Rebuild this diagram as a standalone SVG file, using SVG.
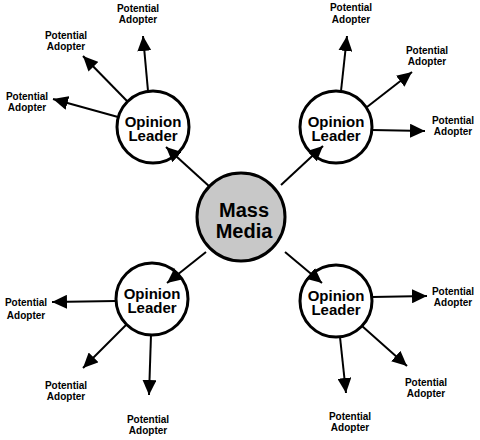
<svg xmlns="http://www.w3.org/2000/svg" width="480" height="440" viewBox="0 0 480 440">
<defs>
<marker id="ah" markerUnits="userSpaceOnUse" markerWidth="16" markerHeight="14" refX="15" refY="7" orient="auto">
<path d="M0,0 L15,7 L0,14 Z" fill="#000"/>
</marker>
<style>
.c{stroke:#000;stroke-width:2;fill:none;marker-end:url(#ah)}
.n{fill:#fff;stroke:#000;stroke-width:3}
.m{fill:#c8c8c8;stroke:#000;stroke-width:3}
.t{font-family:"Liberation Sans",Arial,sans-serif;font-weight:bold;text-anchor:middle;fill:#000}
.ol{font-size:15px}
.pa{font-size:10px}
.mm{font-size:20px}
</style>
</defs>
<rect width="480" height="440" fill="#fff"/>
<g id="mass-media">
<circle class="m" cx="241" cy="217" r="44"/>
<text class="t mm" x="244" y="217">Mass</text>
<text class="t mm" x="244" y="238">Media</text>
</g>
<g id="leader-tl">
<circle class="n" cx="153" cy="127" r="36"/>
<text class="t ol" x="153" y="127">Opinion</text>
<text class="t ol" x="153" y="141">Leader</text>
</g>
<g id="leader-tr">
<circle class="n" cx="336" cy="127" r="36"/>
<text class="t ol" x="336" y="127">Opinion</text>
<text class="t ol" x="336" y="141">Leader</text>
</g>
<g id="leader-bl">
<circle class="n" cx="152" cy="299" r="36"/>
<text class="t ol" x="152" y="299">Opinion</text>
<text class="t ol" x="152" y="313">Leader</text>
</g>
<g id="leader-br">
<circle class="n" cx="336" cy="301" r="36"/>
<text class="t ol" x="336" y="301">Opinion</text>
<text class="t ol" x="336" y="315">Leader</text>
</g>
<g id="connectors">
<line class="c" x1="210" y1="187" x2="166" y2="147"/>
<line class="c" x1="281" y1="185" x2="323" y2="146"/>
<line class="c" x1="206" y1="252" x2="167" y2="283"/>
<line class="c" x1="285" y1="252" x2="322" y2="283"/>
<line class="c" x1="148" y1="91" x2="143" y2="36"/>
<line class="c" x1="127" y1="101" x2="83" y2="56"/>
<line class="c" x1="118" y1="117" x2="53" y2="99"/>
<line class="c" x1="341" y1="91" x2="347" y2="36"/>
<line class="c" x1="367" y1="107" x2="412" y2="72"/>
<line class="c" x1="372" y1="130" x2="425" y2="131"/>
<line class="c" x1="116" y1="301" x2="52" y2="302"/>
<line class="c" x1="126" y1="325" x2="83" y2="368"/>
<line class="c" x1="151" y1="335" x2="149" y2="395"/>
<line class="c" x1="372" y1="297" x2="427" y2="296"/>
<line class="c" x1="362" y1="326" x2="407" y2="366"/>
<line class="c" x1="340" y1="337" x2="346" y2="393"/>
</g>
<g id="pa-tl-1"><text class="t pa" x="138" y="12">Potential</text><text class="t pa" x="138" y="23">Adopter</text></g>
<g id="pa-tl-2"><text class="t pa" x="66" y="39">Potential</text><text class="t pa" x="66" y="50">Adopter</text></g>
<g id="pa-tl-3"><text class="t pa" x="27" y="100">Potential</text><text class="t pa" x="27" y="111">Adopter</text></g>
<g id="pa-tr-1"><text class="t pa" x="351" y="11">Potential</text><text class="t pa" x="351" y="23">Adopter</text></g>
<g id="pa-tr-2"><text class="t pa" x="427" y="54">Potential</text><text class="t pa" x="427" y="65">Adopter</text></g>
<g id="pa-tr-3"><text class="t pa" x="453" y="124">Potential</text><text class="t pa" x="453" y="135">Adopter</text></g>
<g id="pa-bl-1"><text class="t pa" x="26" y="306">Potential</text><text class="t pa" x="26" y="319">Adopter</text></g>
<g id="pa-bl-2"><text class="t pa" x="66" y="389">Potential</text><text class="t pa" x="66" y="400">Adopter</text></g>
<g id="pa-bl-3"><text class="t pa" x="148" y="423">Potential</text><text class="t pa" x="148" y="434">Adopter</text></g>
<g id="pa-br-1"><text class="t pa" x="453" y="295">Potential</text><text class="t pa" x="453" y="306">Adopter</text></g>
<g id="pa-br-2"><text class="t pa" x="426" y="386">Potential</text><text class="t pa" x="426" y="397">Adopter</text></g>
<g id="pa-br-3"><text class="t pa" x="350" y="420">Potential</text><text class="t pa" x="350" y="431">Adopter</text></g>
</svg>
